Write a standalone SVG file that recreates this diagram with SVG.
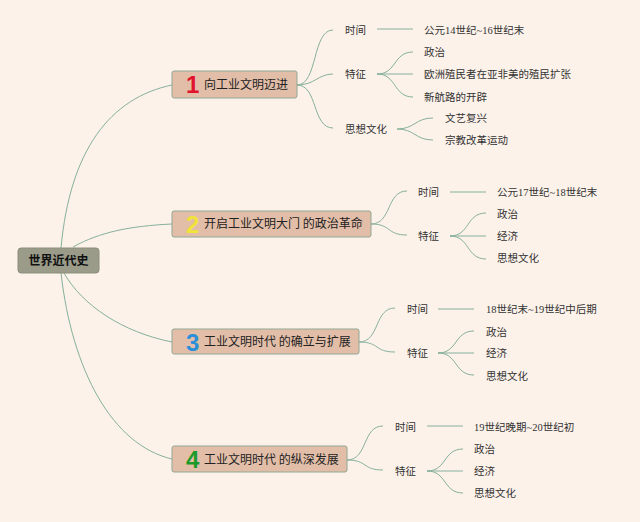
<svg xmlns="http://www.w3.org/2000/svg" width="640" height="522" viewBox="0 0 640 522">
<style>
.bg{fill:#fcf2ea}
.root{fill:#9a9b88;stroke:#8c8e7c;stroke-width:1}
.topic{fill:#e2bea8;stroke:#92a892;stroke-width:1}
.c{fill:none;stroke:#86b09c;stroke-width:1}
text{font-family:"Liberation Serif","Noto Sans CJK SC",sans-serif;fill:#333}
.rt{font-family:"Noto Sans CJK SC",sans-serif;font-size:12px;font-weight:bold;fill:#111}
.tt{font-family:"Noto Sans CJK SC",sans-serif;font-size:12px;fill:#222}
.num{font-family:"Liberation Sans",sans-serif;font-size:24px;font-weight:bold}
.s{font-size:10.5px}
</style>
<rect class="bg" x="0" y="0" width="640" height="522"/>
<g id="connectors">
<path class="c" d="M61,248 C70,150 110,98 172,85"/>
<path class="c" d="M73,247 C100,232 130,226 172,224"/>
<path class="c" d="M64,273 C82,305 122,332 172,342"/>
<path class="c" d="M61,273 C72,370 112,445 172,459"/>
<path class="c" d="M297,85 C318,85 312,30 333,30"/>
<path class="c" d="M297,85 C315,85 318,74 333,74"/>
<path class="c" d="M297,85 C318,85 312,128 333,128"/>
<path class="c" d="M377,29 L413,29"/>
<path class="c" d="M377,74 C397,74 393,52 413,52"/>
<path class="c" d="M377,74 L413,74"/>
<path class="c" d="M377,74 C397,74 393,97 413,97"/>
<path class="c" d="M397,129 C415,129 415,118 433,118"/>
<path class="c" d="M397,129 C415,129 415,140 433,140"/>
<path class="c" d="M371,224 C392,224 386,191 407,191"/>
<path class="c" d="M371,224 C392,224 386,235 407,235"/>
<path class="c" d="M450,192 L486,192"/>
<path class="c" d="M450,236 C470,236 466,213 486,213"/>
<path class="c" d="M450,236 L486,236"/>
<path class="c" d="M450,236 C470,236 466,259 486,259"/>
<path class="c" d="M359,342 C380,342 374,308 395,308"/>
<path class="c" d="M359,342 C380,342 374,352 395,352"/>
<path class="c" d="M438,309 L474,309"/>
<path class="c" d="M438,353 C458,353 454,331 474,331"/>
<path class="c" d="M438,353 L474,353"/>
<path class="c" d="M438,353 C458,353 454,375 474,375"/>
<path class="c" d="M347,460 C368,460 362,426 383,426"/>
<path class="c" d="M347,460 C368,460 362,470 383,470"/>
<path class="c" d="M427,426 L463,426"/>
<path class="c" d="M427,471 C447,471 443,449 463,449"/>
<path class="c" d="M427,471 L463,471"/>
<path class="c" d="M427,471 C447,471 443,493 463,493"/>
</g>
<g id="root">
<rect class="root" x="18" y="248" width="81" height="25" rx="3"/>
<text class="rt" x="58.5" y="265" text-anchor="middle">世界近代史</text>
</g>
<g id="topic1">
<rect class="topic" x="172" y="71" width="125" height="27" rx="2"/>
<text class="num" x="186" y="93" style="fill:#e0122c">1</text>
<text class="tt" x="204" y="89">向工业文明迈进</text>
</g>
<g id="topic2">
<rect class="topic" x="172" y="211" width="199" height="26" rx="2"/>
<text class="num" x="186" y="232.5" style="fill:#f2e23a">2</text>
<text class="tt" x="204" y="228">开启工业文明大门 的政治革命</text>
</g>
<g id="topic3">
<rect class="topic" x="172" y="329" width="187" height="25" rx="2"/>
<text class="num" x="186" y="350.5" style="fill:#2a8fd8">3</text>
<text class="tt" x="204" y="346">工业文明时代 的确立与扩展</text>
</g>
<g id="topic4">
<rect class="topic" x="172" y="446" width="175" height="26" rx="2"/>
<text class="num" x="186" y="468" style="fill:#1e9a2a">4</text>
<text class="tt" x="204" y="464">工业文明时代 的纵深发展</text>
</g>
<g id="t1-sub">
<text class="s" x="345" y="34">时间</text>
<text class="s" x="424" y="34">公元14世纪~16世纪末</text>
<text class="s" x="345" y="78">特征</text>
<text class="s" x="424" y="56">政治</text>
<text class="s" x="424" y="78">欧洲殖民者在亚非美的殖民扩张</text>
<text class="s" x="424" y="101">新航路的开辟</text>
<text class="s" x="345" y="133">思想文化</text>
<text class="s" x="445" y="122">文艺复兴</text>
<text class="s" x="445" y="144">宗教改革运动</text>
</g>
<g id="t2-sub">
<text class="s" x="418" y="196">时间</text>
<text class="s" x="497" y="196">公元17世纪~18世纪末</text>
<text class="s" x="418" y="240">特征</text>
<text class="s" x="497" y="218">政治</text>
<text class="s" x="497" y="240">经济</text>
<text class="s" x="497" y="262">思想文化</text>
</g>
<g id="t3-sub">
<text class="s" x="407" y="313">时间</text>
<text class="s" x="486" y="313">18世纪末~19世纪中后期</text>
<text class="s" x="407" y="357">特征</text>
<text class="s" x="486" y="336">政治</text>
<text class="s" x="486" y="357">经济</text>
<text class="s" x="486" y="380">思想文化</text>
</g>
<g id="t4-sub">
<text class="s" x="395" y="431">时间</text>
<text class="s" x="474" y="431">19世纪晚期~20世纪初</text>
<text class="s" x="395" y="475">特征</text>
<text class="s" x="474" y="453">政治</text>
<text class="s" x="474" y="475">经济</text>
<text class="s" x="474" y="497">思想文化</text>
</g>
</svg>
